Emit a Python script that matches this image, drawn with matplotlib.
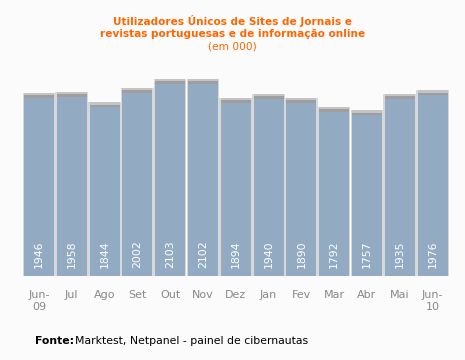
import matplotlib.pyplot as plt
import numpy as np

meses = ['Jun-\n09', 'Jul', 'Ago', 'Set', 'Out', 'Nov', 'Dez', 'Jan', 'Fev', 'Mar', 'Abr', 'Mai', 'Jun-\n10']
utilizadores = [1946, 1958, 1844, 2002, 2103, 2102, 1894, 1940, 1890, 1792, 1757, 1935, 1976]

fundo = '#fbfbfb'
cor_barra = '#92abc2'
laranja = '#ff6600'

fig = plt.figure(figsize=(4.65, 3.6), dpi=100, facecolor=fundo)
ax = fig.add_axes([0.0484, 0.234, 0.917, 0.6086])
ax.set_facecolor(fundo)

x = np.arange(len(utilizadores))
largura = 0.915

# sombra por tras das barras
ax.bar(x, np.array(utilizadores) + 55, width=largura + 0.08, color='#d8d8d8', zorder=1)
ax.bar(x, np.ones(len(x)) * 55, bottom=utilizadores, width=largura, color='#c4c4c4', zorder=2)
ax.bar(x, np.ones(len(x)) * 30, bottom=utilizadores, width=largura, color='#9e9e9e', zorder=2)
ax.bar(x, utilizadores, width=largura, color=cor_barra, zorder=3)

for xi, v in zip(x, utilizadores):
    ax.text(xi, 90, str(v), rotation=90, ha='center', va='bottom', color='white',
            fontsize=7.8, zorder=4)

ax.set_xlim(-0.5, len(x) - 0.5)
ax.set_ylim(0, 2400)
ax.set_xticks(x)
ax.set_xticklabels(meses, color='#888888', fontsize=8, linespacing=1.3)
ax.tick_params(axis='x', length=0, pad=10)
ax.set_yticks([])
for s in ax.spines.values():
    s.set_visible(False)

fig.text(0.5, 0.925, 'Utilizadores Únicos de Sites de Jornais e\nrevistas portuguesas e de informação online',
         ha='center', va='center', color=laranja, fontsize=7.6, fontweight='bold', linespacing=1.2)
fig.text(0.5, 0.872, '(em 000)', ha='center', va='center', color=laranja, fontsize=7.6)

fig.text(0.075, 0.052, 'Fonte:', ha='left', va='center', fontsize=7.8, fontweight='bold', color='black')
fig.text(0.161, 0.052, 'Marktest, Netpanel - painel de cibernautas', ha='left', va='center',
         fontsize=7.8, color='black')

fig.savefig('out.png', dpi=100, facecolor=fundo)
